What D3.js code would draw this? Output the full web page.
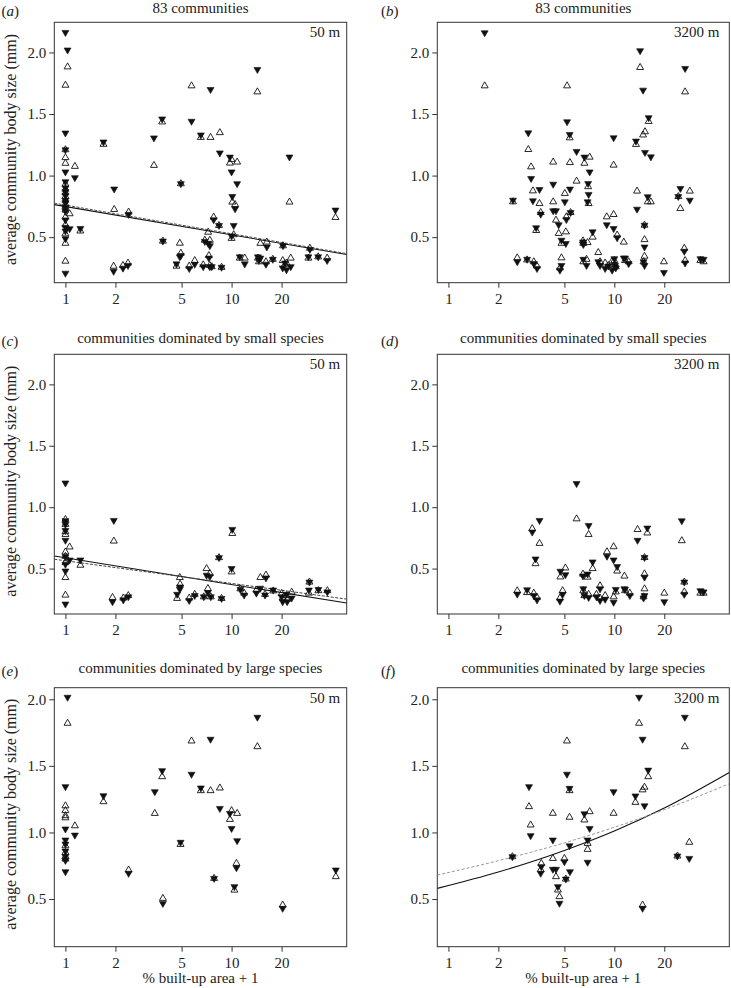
<!DOCTYPE html>
<html><head><meta charset="utf-8">
<script src="https://cdn.jsdelivr.net/npm/d3@7"></script>
<style>
body{margin:0;background:#fff}
svg text{font-family:"Liberation Serif","Times New Roman",Times,serif !important;fill:#222}
</style>
</head><body>
<svg id="chart" width="731" height="988" style="font-family:'Liberation Serif',serif"></svg>
<script>
// ---------- tick labels & text ----------
const xTicks = [1, 2, 5, 10, 20];
const yTicks = [0.5, 1.0, 1.5, 2.0];
const panelLetters = ["a", "b", "c", "d", "e", "f"];
const panelTitles = ["83 communities", "83 communities",
  "communities dominated by small species", "communities dominated by small species",
  "communities dominated by large species", "communities dominated by large species"];
const bufferLabels = ["50 m", "3200 m", "50 m", "3200 m", "50 m", "3200 m"];
const xLabel = "% built-up area + 1";
const yLabel = "average community body size (mm)";

// ---------- data: [% built-up area + 1, open triangle value, filled triangle value] ----------
const dataA = [
 [1,1.734,2.163],[1.03,1.883,2.02],[1,1.21,1.346],[1,1.146,1.21],[1,1.10,1.03],[1.14,1.075,0.983],
 [1,0.93,0.95],[1,0.89,0.90],[1,0.86,0.87],[1,0.83,0.84],[1,0.80,0.80],[1,0.77,0.78],[1,0.75,0.74],
 [1,0.72,0.71],[1.06,0.69,0.568],[1,0.663,0.64],[1,0.60,0.58],[1.23,0.55,0.57],[1,0.527,0.487],
 [1,0.45,0.55],[1,0.305,0.207],[1.694,1.254,1.273],[1.965,0.725,0.891],[1.95,0.264,0.223],
 [2.22,0.27,0.248],[2.38,0.289,0.27],[2.4,0.704,0.685],[3.41,1.083,1.306],[3.82,1.436,1.46],
 [3.86,0.468,0.468],[4.95,0.934,0.934],[4.88,0.451,0.34],[4.95,0.37,0.35],[4.66,0.264,0.283],
 [5.56,0.265,0.245],[5.74,1.729,1.441],[6.0,0.31,0.28],[6.53,1.31,1.33],[6.75,0.275,0.26],
 [6.9,0.475,0.465],[7.23,0.54,0.45],[7.4,0.475,0.43],[7.3,0.35,0.33],[7.4,0.27,0.26],[7.6,0.26,0.26],
 [7.47,1.31,1.699],[7.8,0.663,0.641],[8.4,0.595,0.595],[8.5,1.349,1.184],[8.7,0.255,0.255],
 [9.77,1.102,1.15],[10,1.13,1.03],[10.1,0.785,0.83],[10.5,0.765,0.73],[10.8,1.11,0.934],
 [10.3,0.52,0.595],[10,0.49,0.51],[11.2,0.33,0.34],[12.0,0.33,0.283],[14.4,0.33,0.34],
 [14.6,0.30,0.31],[14.3,1.68,1.862],[14.9,0.45,0.33],[16.3,0.46,0.42],[16.1,0.30,0.28],
 [17.7,0.32,0.32],[20.4,0.43,0.43],[20.3,0.31,0.25],[21.4,0.29,0.235],[22.7,0.33,0.26],
 [21,0.28,0.29],[22.3,0.785,1.151],[29,0.33,0.34],[29.6,0.41,0.40],[33.2,0.34,0.34],
 [37.6,0.33,0.31],[42.2,0.66,0.72]
];
const dataB = [
 [1.654,1.729,2.16],[3.03,1.212,1.347],[3.15,1.071,0.976],[3.23,0.876,0.795],[3.54,0.773,0.887],
 [3.6,0.70,0.687],[3.38,0.554,0.576],[2.45,0.787,0.80],[2.6,0.332,0.30],[2.98,0.315,0.32],
 [3.27,0.30,0.285],[3.42,0.265,0.245],[4.28,1.11,0.93],[4.28,0.787,0.714],[4.45,0.638,0.714],
 [4.62,0.53,0.6],[4.8,0.45,0.475],[4.8,0.332,0.27],[4.7,0.25,0.232],[5.03,0.855,0.787],
 [5.14,0.665,0.643],[5.1,0.543,0.448],[5.19,1.729,1.437],[5.38,1.307,1.334],[5.4,1.106,0.89],
 [5.45,0.70,0.70],[5.92,0.955,1.196],[6.47,0.47,0.46],[6.5,0.45,0.44],[6.6,1.10,1.15],
 [7.1,1.15,1.03],[6.95,0.91,0.935],[7.0,0.773,0.847],[6.9,0.456,0.787],[7.4,0.5,0.543],
 [6.5,0.30,0.32],[6.8,0.32,0.27],[8.2,0.30,0.27],[8.0,0.375,0.30],[8.8,0.29,0.245],
 [9.2,0.27,0.265],[9.7,0.305,0.232],[10,0.31,0.325],[10.1,0.28,0.27],[10.2,0.26,0.25],
 [9.0,0.665,0.6],[9.9,0.684,0.57],[10.4,0.517,0.495],[9.9,1.085,1.307],[11.4,0.46,0.33],
 [11.6,0.31,0.33],[12.2,0.30,0.285],[13.7,0.874,0.727],[13.5,1.253,1.28],[14.3,1.878,2.014],
 [14.9,1.33,1.694],[15.3,1.356,1.188],[16.6,0.787,1.152],[16.1,1.44,1.47],[15.9,0.787,0.828],
 [15.2,0.597,0.597],[15.2,0.48,0.42],[15.2,0.345,0.27],[15.0,0.30,0.30],[19.9,0.3,0.213],
 [24.3,0.83,0.83],[25,0.733,0.895],[28.5,0.874,0.8],[26.7,1.68,1.87],[26.4,0.41,0.385],
 [26.7,0.31,0.29],[33,0.31,0.325],[34.5,0.30,0.32]
];
const dataC = [
 [1,0.90,0.89],[1,0.86,0.86],[1,0.80,0.81],[1,0.778,0.73],[1.06,0.676,0.57],[1,0.635,0.597],
 [1,0.60,1.197],[1,0.55,0.535],[1,0.427,0.48],[1,0.284,0.211],[1.23,0.527,0.57],
 [1.955,0.724,0.892],[1.92,0.265,0.23],[2.23,0.26,0.245],[2.39,0.28,0.27],[4.88,0.427,0.332],
 [4.9,0.373,0.35],[4.7,0.257,0.29],[5.56,0.26,0.24],[6.0,0.29,0.28],[6.8,0.27,0.27],
 [7.07,0.5,0.446],[7.4,0.46,0.435],[7.2,0.338,0.305],[7.5,0.27,0.27],[8.4,0.589,0.589],
 [8.7,0.257,0.257],[10.1,0.786,0.819],[10,0.473,0.5],[11.3,0.335,0.33],[11.9,0.30,0.284],
 [14.1,0.325,0.3],[14.9,0.427,0.34],[16.1,0.447,0.424],[15.9,0.29,0.284],[17.8,0.318,0.325],
 [20,0.297,0.27],[20.3,0.26,0.23],[21.4,0.28,0.29],[21.6,0.25,0.23],[23,0.308,0.26],
 [29.4,0.39,0.39],[29.2,0.30,0.325],[33.3,0.32,0.33],[37.7,0.32,0.31]
];
const dataD = [
 [2.6,0.319,0.292],[2.98,0.305,0.327],[3.27,0.30,0.28],[3.42,0.265,0.245],[3.2,0.825,0.797],
 [3.54,0.705,0.892],[3.35,0.54,0.578],[4.73,0.432,0.478],[5.07,0.505,0.45],[4.88,0.32,0.29],
 [4.7,0.26,0.235],[5.92,0.905,1.192],[7.0,0.778,0.851],[6.47,0.455,0.44],[6.9,0.43,0.455],
 [7.4,0.5,0.554],[6.5,0.32,0.335],[6.6,0.28,0.28],[7.0,0.29,0.265],[8.2,0.36,0.335],
 [7.8,0.29,0.27],[8.2,0.26,0.24],[8.8,0.28,0.25],[9.03,0.637,0.6],[9.9,0.678,0.57],
 [10.4,0.48,0.516],[10.2,0.31,0.33],[9.9,0.27,0.225],[11.5,0.439,0.335],[11.6,0.32,0.33],
 [12.4,0.30,0.28],[13.8,0.818,0.73],[15.8,0.79,0.83],[15.2,0.59,0.59],[15.2,0.457,0.43],
 [15.2,0.335,0.28],[15.0,0.27,0.26],[20,0.3,0.23],[25.5,0.727,0.889],[26.4,0.39,0.39],
 [26.4,0.31,0.29],[33,0.30,0.32],[34.5,0.30,0.31]
];
const dataE = [
 [1.03,1.82,2.015],[1,1.2,1.344],[1,1.164,1.026],[1,1.126,0.943],[1,1.11,0.913],[1.14,1.05,0.98],
 [1,0.90,0.86],[1,0.85,0.82],[1,0.82,0.79],[1,0.80,0.705],[1.694,1.231,1.276],[2.4,0.718,0.693],
 [3.45,1.143,1.306],[3.82,1.419,1.464],[3.86,0.505,0.467],[4.93,0.91,0.926],[5.74,1.687,1.437],
 [6.53,1.314,1.334],[7.47,1.314,1.70],[8.5,1.334,1.18],[9.77,1.098,1.143],[10,1.164,1.03],
 [10.8,1.143,0.938],[10.7,0.768,0.735],[7.85,0.655,0.655],[10.4,0.567,0.593],[14.3,1.644,1.865],
 [20.3,0.455,0.43],[42.4,0.668,0.718]
];
const dataF = [
 [2.43,0.818,0.818],[3.06,1.194,1.344],[3.13,1.056,0.976],[3.63,0.768,0.743],[3.6,0.72,0.693],
 [4.26,1.144,0.943],[4.26,0.805,0.723],[4.45,0.668,0.723],[4.57,0.568,0.593],[4.67,0.518,0.468],
 [5.18,1.687,1.437],[5.37,1.314,1.331],[5.37,1.114,0.9],[5.4,null,0.705],[5.0,0.805,0.78],
 [5.1,0.65,0.65],[6.6,1.094,1.14],[7.1,1.156,1.03],[6.9,0.918,0.943],[6.9,0.873,0.776],
 [9.9,1.144,1.306],[13.4,1.226,1.274],[14.1,1.82,2.015],[14.8,1.32,1.70],[15.2,1.34,1.2],
 [16,1.419,1.468],[14.8,0.455,0.43],[24,0.823,0.823],[28.3,0.926,0.805],[26.6,1.644,1.865]
];

// ---------- fitted lines: [x, y] ----------
const lineASolid  = [[0.857,0.764],[49.3,0.359]];
const lineADashed = [[0.857,0.776],[49.3,0.366]];
const lineCSolid  = [[0.857,0.603],[49.3,0.219]];
const lineCDashed = [[0.857,0.576],[49.3,0.251]];
const lineFSolid  = [[0.857,0.58],[2,0.703],[5,0.865],[10,1.011],[20,1.183],[49.3,1.45]];
const lineFDashed = [[0.857,0.68],[2,0.788],[5,0.922],[10,1.039],[20,1.171],[49.3,1.366]];

// ---------- layout ----------
const FONT = "'Liberation Serif', 'Times New Roman', Times, serif";
const svg = d3.select("#chart");
svg.append("rect").attr("width",731).attr("height",988).attr("fill","#fff");
const colL = [54.3, 437.3], colR = [346.7, 729.3];
const rowT = [22.3, 354.3, 687.7], rowB = [282.7, 614, 946.7];
const yDom = [[0.13, 2.245],[0.13, 2.245],[0.142, 2.087]];
const titleY = [13, 343, 673];
const xDomain = [0.857, 49.3];

const panels = [
 {data:dataA, lines:[{pts:lineASolid,dash:null,col:"#111"},{pts:lineADashed,dash:"3,1.5",col:"#555"}]},
 {data:dataB, lines:[]},
 {data:dataC, lines:[{pts:lineCSolid,dash:null,col:"#111"},{pts:lineCDashed,dash:"3,1.5",col:"#444"}]},
 {data:dataD, lines:[]},
 {data:dataE, lines:[]},
 {data:dataF, lines:[{pts:lineFSolid,dash:null,col:"#111"},{pts:lineFDashed,dash:"3,2",col:"#999"}]}
];

const triSize = 21;
const triUp = d3.symbol().type(d3.symbolTriangle).size(triSize)();

function txt(sel) { return sel.style("font-family", FONT); }

panels.forEach((p, i) => {
  const col = i % 2, row = Math.floor(i / 2);
  const L = colL[col], R = colR[col], T = rowT[row], B = rowB[row];
  const x = d3.scaleLog().domain(xDomain).range([L, R]);
  const y = d3.scaleLinear().domain(yDom[row]).range([B, T]);
  const g = svg.append("g");

  // axes
  const xa = g.append("g").attr("transform", `translate(0,${B})`)
    .call(d3.axisBottom(x).tickValues(xTicks).tickFormat(d3.format("d")).tickSize(5).tickPadding(5.5));
  const ya = g.append("g").attr("transform", `translate(${L},0)`)
    .call(d3.axisLeft(y).tickValues(yTicks).tickFormat(d3.format(".1f")).tickSize(5).tickPadding(3));
  [xa, ya].forEach(a => {
    a.attr("font-family", null);
    a.select(".domain").remove();
    a.selectAll("line").attr("stroke", "#333");
    txt(a.selectAll("text").attr("font-size", 15).attr("fill", "#222"));
  });

  // box
  g.append("rect").attr("x", L).attr("y", T).attr("width", R - L).attr("height", B - T)
    .attr("fill", "none").attr("stroke", "#333").attr("stroke-width", 1);

  // clip
  const cid = "clip" + i;
  svg.append("clipPath").attr("id", cid).append("rect")
    .attr("x", L).attr("y", T).attr("width", R - L).attr("height", B - T);
  const pg = g.append("g").attr("clip-path", `url(#${cid})`);

  // lines
  p.lines.forEach(l => {
    pg.append("path").datum(l.pts)
      .attr("d", d3.line().x(d => x(d[0])).y(d => y(d[1])).curve(d3.curveMonotoneX))
      .attr("fill", "none").attr("stroke", l.col).attr("stroke-width", l.dash ? 1 : 1.1)
      .attr("stroke-dasharray", l.dash);
  });

  // filled down triangles
  pg.selectAll(".f").data(p.data.filter(d => d[2] != null)).enter().append("path")
    .attr("d", triUp)
    .attr("transform", d => `translate(${x(d[0])},${y(d[2])}) rotate(180)`)
    .attr("fill", "#111").attr("stroke", "#111").attr("stroke-width", 0.6);
  // open up triangles
  pg.selectAll(".o").data(p.data.filter(d => d[1] != null)).enter().append("path")
    .attr("d", triUp)
    .attr("transform", d => `translate(${x(d[0])},${y(d[1])})`)
    .attr("fill", "none").attr("stroke", "#111").attr("stroke-width", 0.9);

  // texts
  const cx = (L + R) / 2;
  txt(svg.append("text").attr("x", cx).attr("y", titleY[row]).attr("text-anchor", "middle")
    .attr("font-size", 15).text(panelTitles[i]));
  const lt = txt(svg.append("text").attr("x", col === 0 ? 1.5 : 381).attr("y", titleY[row] + 3)
    .attr("font-size", 15));
  lt.append("tspan").text("(");
  lt.append("tspan").attr("font-style", "italic").text(panelLetters[i]);
  lt.append("tspan").text(")");
  txt(svg.append("text").attr("x", R - (col === 0 ? 6.5 : 10)).attr("y", T + 15)
    .attr("text-anchor", "end").attr("font-size", 15).text(bufferLabels[i]));

  if (col === 0) {
    txt(svg.append("text").attr("transform", `translate(16,${(T + B) / 2 - 3}) rotate(-90)`)
      .attr("text-anchor", "middle").attr("font-size", 16).text(yLabel));
  }
  if (row === 2) {
    txt(svg.append("text").attr("x", cx).attr("y", 983).attr("text-anchor", "middle")
      .attr("font-size", 15).text(xLabel));
  }
});
</script>
</body></html>
